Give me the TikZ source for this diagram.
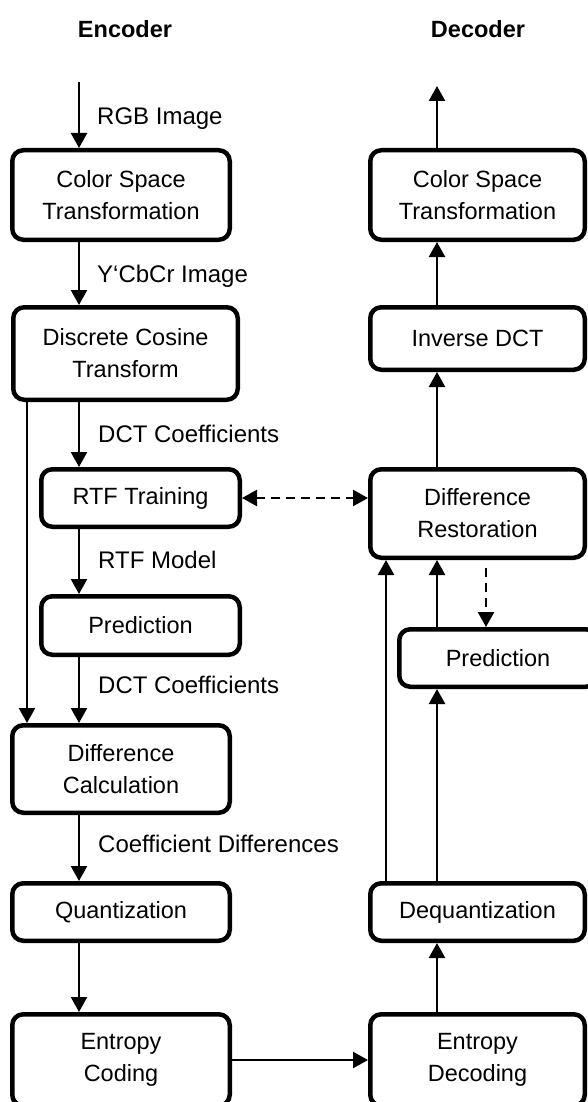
\documentclass[tikz,border=0pt]{standalone}
\usepackage{fontspec}
\setmainfont{Liberation Sans}
\usetikzlibrary{arrows.meta}
\begin{document}
\begin{tikzpicture}[x=1pt,y=-1pt,
  box/.style={draw, line width=4.5pt, rounded corners=11pt, align=center,
    inner sep=0pt, font=\fontsize{23.5}{32}\selectfont},
  tip/.style={Triangle[length=15pt,width=16pt]},
  conn/.style={line width=2.4pt, -{Triangle[length=15pt,width=16pt]}},
  dashconn/.style={line width=2.4pt, dash pattern=on 9pt off 6pt},
  lbl/.style={anchor=base west, inner sep=0pt, font=\fontsize{24}{28}\selectfont},
  head/.style={inner sep=0pt, font=\bfseries\fontsize{23.5}{28}\selectfont}]
\fill[white] (0,0) rectangle (588,1102);
\useasboundingbox (0,0) rectangle (588,1102);
\clip (0,0) rectangle (588,1102);

% column headings
\node[head] (henc) at (125,29) {Encoder};
\node[head] (hdec) at (478,29) {Decoder};

% encoder blocks
\node[box, minimum width=217.5pt, minimum height=89.5pt] (ecst) at (121,195) {Color Space\\Transformation};
\node[box, minimum width=224.5pt, minimum height=92.5pt] (dct) at (125.5,353.5) {Discrete Cosine\\Transform};
\node[box, minimum width=198.5pt, minimum height=57.5pt] (rtf) at (140.5,498) {RTF Training};
\node[box, minimum width=198.5pt, minimum height=58.5pt] (epred) at (140.5,625.5) {Prediction};
\node[box, minimum width=217.5pt, minimum height=87.5pt] (dc) at (121,769) {Difference\\Calculation};
\node[box, minimum width=217.5pt, minimum height=57.5pt] (quant) at (121,912) {Quantization};
\node[box, minimum width=217.5pt, minimum height=91.5pt] (ec) at (121,1060) {Entropy\\Coding};

% decoder blocks
\node[box, minimum width=214.5pt, minimum height=89.5pt] (dcst) at (477.5,195) {Color Space\\Transformation};
\node[box, minimum width=214.5pt, minimum height=62.5pt] (idct) at (477.5,338.5) {Inverse DCT};
\node[box, minimum width=214.5pt, minimum height=88.5pt] (dr) at (477.5,513.5) {Difference\\Restoration};
\node[box, minimum width=197.5pt, minimum height=57.5pt] (dpred) at (498,658) {Prediction};
\node[box, minimum width=214.5pt, minimum height=57.5pt] (deq) at (477.5,912) {Dequantization};
\node[box, minimum width=214.5pt, minimum height=91.5pt] (ed) at (477.5,1060) {Entropy\\Decoding};

% connector columns and free ends
\coordinate (ex) at (79,0);
\coordinate (bx) at (27,0);
\coordinate (dx) at (437,0);
\coordinate (dlx) at (386,0);
\coordinate (dsx) at (486,0);
\coordinate (rgbin) at (79,82);
\coordinate (rgbout) at (437,86);

% encoder flow
\draw[conn] (rgbin) -- (ecst.north -| ex);
\draw[conn] (ecst.south -| ex) -- (dct.north -| ex);
\draw[conn] (dct.south -| ex) -- (rtf.north -| ex);
\draw[conn] (rtf.south -| ex) -- (epred.north -| ex);
\draw[conn] (epred.south -| ex) -- (dc.north -| ex);
\draw[conn] (dct.south -| bx) -- (dc.north -| bx);
\draw[conn] (dc.south -| ex) -- (quant.north -| ex);
\draw[conn] (quant.south -| ex) -- (ec.north -| ex);
\draw[conn] (ec.east) -- (ec.east -| ed.west);

% decoder flow
\draw[conn] (ed.north -| dx) -- (deq.south -| dx);
\draw[conn] (deq.north -| dx) -- (dpred.south -| dx);
\draw[conn] (deq.north -| dlx) -- (dr.south -| dlx);
\draw[conn] (dpred.north -| dx) -- (dr.south -| dx);
\draw[conn] (dr.north -| dx) -- (idct.south -| dx);
\draw[conn] (idct.north -| dx) -- (dcst.south -| dx);
\draw[conn] (dcst.north -| dx) -- (rgbout);

% model exchange
\draw[dashconn, {Triangle[length=15pt,width=16pt]}-{Triangle[length=15pt,width=16pt]}]
  (rtf.east) -- (rtf.east -| dr.west);
\draw[dashconn, -{Triangle[length=15pt,width=16pt]}]
  ([yshift=-8pt]dr.south -| dsx) -- (dpred.north -| dsx);

% data labels
\node[lbl] (lrgb) at (97,124.5) {RGB Image};
\node[lbl] (lycc) at (97,282.5) {Y‘CbCr Image};
\node[lbl] (ldct1) at (98,442.5) {DCT Coefficients};
\node[lbl] (lmod) at (98,568.5) {RTF Model};
\node[lbl] (ldct2) at (98,693.5) {DCT Coefficients};
\node[lbl] (ldiff) at (98,852.5) {Coefficient Differences};
\end{tikzpicture}
\end{document}
